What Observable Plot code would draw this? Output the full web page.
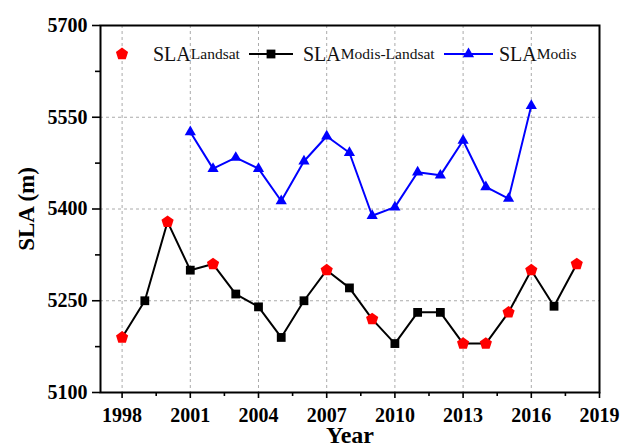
<!DOCTYPE html>
<html>
<head>
<meta charset="utf-8">
<script src="https://cdn.jsdelivr.net/npm/d3@7"></script>
<script src="https://cdn.jsdelivr.net/npm/@observablehq/plot@0.6"></script>
<style>
  body { margin: 0; background: #fff; }
  #wrap { position: relative; width: 620px; height: 446px; overflow: hidden; background: #fff; }
  .leg { position: absolute; top: 41px; height: 26px; display: flex; align-items: center; font-family: "Liberation Serif", serif; color: #111; white-space: nowrap; }
  .leg .big { font-size: 20px; }
  .leg .sub { font-size: 15.5px; }
  .leg svg { display: block; }
</style>
</head>
<body>
<div id="wrap"></div>
<script>
// ---- data ----
const years = [1998, 1999, 2000, 2001, 2002, 2003, 2004, 2005, 2006, 2007, 2008, 2009, 2010, 2011, 2012, 2013, 2014, 2015, 2016, 2017, 2018];
const slaCombined = [5190, 5250, 5379, 5300, 5310, 5261, 5240, 5190, 5250, 5300, 5271, 5220, 5180, 5231, 5231, 5180, 5180, 5231, 5300, 5241, 5310];
const source = ["Landsat", "Modis-Landsat", "Landsat", "Modis-Landsat", "Landsat", "Modis-Landsat", "Modis-Landsat", "Modis-Landsat", "Modis-Landsat", "Landsat", "Modis-Landsat", "Landsat", "Modis-Landsat", "Modis-Landsat", "Modis-Landsat", "Landsat", "Landsat", "Landsat", "Landsat", "Modis-Landsat", "Landsat"];
const modisYears = [2001, 2002, 2003, 2004, 2005, 2006, 2007, 2008, 2009, 2010, 2011, 2012, 2013, 2014, 2015, 2016];
const slaModis = [5526, 5466, 5484, 5466, 5413, 5478, 5519, 5492, 5389, 5403, 5460, 5455, 5512, 5436, 5417, 5569];
const xTicks = [1998, 2001, 2004, 2007, 2010, 2013, 2016, 2019];
const xMinorTicks = [1999.5, 2002.5, 2005.5, 2008.5, 2011.5, 2014.5, 2017.5];
const yTicks = [5100, 5250, 5400, 5550, 5700];
const yMinorTicks = [5175, 5325, 5475, 5625];
const legendLabels = [["SLA", "Landsat"], ["SLA", "Modis-Landsat"], ["SLA", "Modis"]];

// ---- tables ----
const combined = years.map((y, i) => ({year: y, sla: slaCombined[i], source: source[i]}));
const modis = modisYears.map((y, i) => ({year: y, sla: slaModis[i]}));

// ---- custom symbols (size = pi r^2) ----
const pentagon = {draw(ctx, size) {
  const R = Math.sqrt(size / Math.PI);
  for (let k = 0; k < 5; k++) {
    const a = -Math.PI / 2 + k * 2 * Math.PI / 5;
    const px = R * Math.cos(a), py = R * Math.sin(a);
    if (k === 0) ctx.moveTo(px, py); else ctx.lineTo(px, py);
  }
  ctx.closePath();
}};
const square = {draw(ctx, size) {
  const h = Math.sqrt(size / Math.PI);
  ctx.rect(-h, -h, 2 * h, 2 * h);
}};
const triUp = {draw(ctx, size) {
  const w = Math.sqrt(size / Math.PI);
  ctx.moveTo(0, -w * 1.15);
  ctx.lineTo(w, w * 0.58);
  ctx.lineTo(-w, w * 0.58);
  ctx.closePath();
}};

const tickFont = {fontSize: 20, fontWeight: "bold"};

const chart = Plot.plot({
  width: 620,
  height: 446,
  marginLeft: 100,
  marginRight: 21,
  marginTop: 25,
  marginBottom: 54,
  style: {fontFamily: "'Liberation Serif', serif", color: "#000", background: "#fff"},
  x: {type: "linear", domain: [1997.05, 2019]},
  y: {domain: [5100, 5700]},
  marks: [
    Plot.gridX(xTicks.filter(d => d < 2019), {stroke: "#aaa", strokeOpacity: 1, strokeDasharray: "3,3"}),
    Plot.gridY(yTicks.filter(d => d > 5100 && d < 5700), {stroke: "#aaa", strokeOpacity: 1, strokeDasharray: "3,3"}),
    Plot.line(combined, {x: "year", y: "sla", stroke: "#000", strokeWidth: 2}),
    Plot.line(modis, {x: "year", y: "sla", stroke: "#0000ff", strokeWidth: 2}),
    Plot.dot(combined.filter(d => d.source === "Modis-Landsat"), {x: "year", y: "sla", symbol: square, r: 4.4, fill: "#000", stroke: "none"}),
    Plot.dot(combined.filter(d => d.source === "Landsat"), {x: "year", y: "sla", symbol: pentagon, r: 6.4, fill: "#ff0000", stroke: "none"}),
    Plot.dot(modis, {x: "year", y: "sla", symbol: triUp, r: 5.6, fill: "#0000ff", stroke: "none"}),
    Plot.frame({stroke: "#000", strokeWidth: 2}),
    Plot.axisX(xTicks, {tickSize: 6, tickPadding: 9, strokeWidth: 1.6, tickFormat: d => String(d), label: null, ...tickFont}),
    Plot.axisX(xMinorTicks, {tickSize: 4, strokeWidth: 1.6, tickFormat: () => "", label: "Year", labelAnchor: "center", labelArrow: "none", labelOffset: 50, fontSize: 24, fontWeight: "bold"}),
    Plot.axisY(yTicks, {tickSize: 8, tickPadding: 5, strokeWidth: 1.6, tickFormat: d => String(d), label: null, ...tickFont}),
    Plot.axisY(yMinorTicks, {tickSize: 5, strokeWidth: 1.6, tickFormat: () => "", label: "SLA (m)", labelAnchor: "center", labelArrow: "none", labelOffset: 83, fontSize: 23, fontWeight: "bold"})
  ]
});

const wrap = document.getElementById("wrap");
wrap.appendChild(chart);

// ---- legend (HTML overlay) ----
function legendItem(left, symbolSvg, labels) {
  const div = document.createElement("div");
  div.className = "leg";
  div.style.left = left + "px";
  div.innerHTML = symbolSvg + `<span class="big">${labels[0]}</span><span class="sub">${labels[1]}</span>`;
  return div;
}
function pentPath(cx, cy, R) {
  let p = "";
  for (let k = 0; k < 5; k++) {
    const a = -Math.PI / 2 + k * 2 * Math.PI / 5;
    p += (k ? "L" : "M") + (cx + R * Math.cos(a)).toFixed(2) + "," + (cy + R * Math.sin(a)).toFixed(2);
  }
  return p + "Z";
}
const sym1 = `<svg width="41" height="26"><path d="${pentPath(10, 13, 6.4)}" fill="#ff0000"/></svg>`;
const sym2 = `<svg width="54" height="26"><line x1="0" y1="13" x2="44" y2="13" stroke="#000" stroke-width="2"/><rect x="17.6" y="8.6" width="8.8" height="8.8" fill="#000"/></svg>`;
const sym3 = `<svg width="55" height="26"><line x1="0" y1="13" x2="49" y2="13" stroke="#0000ff" stroke-width="2"/><path d="M24.5,6.6L30.1,16.2L18.9,16.2Z" fill="#0000ff"/></svg>`;
wrap.appendChild(legendItem(112, sym1, legendLabels[0]));
wrap.appendChild(legendItem(249, sym2, legendLabels[1]));
wrap.appendChild(legendItem(444, sym3, legendLabels[2]));
</script>
</body>
</html>
